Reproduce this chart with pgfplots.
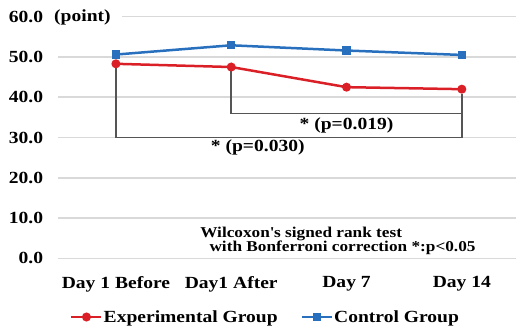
\documentclass[border=0pt]{standalone}
\usepackage{fontspec}
\setmainfont{Liberation Serif}[FakeStretch=1.15]
\usepackage{pgfplots}
\pgfplotsset{compat=1.18}
\definecolor{expred}{RGB}{218,32,38}
\definecolor{ctrlblue}{RGB}{40,112,190}
\definecolor{gridgray}{RGB}{217,217,217}
\definecolor{brk}{RGB}{85,85,85}
\newcommand{\bigf}{\bfseries\fontsize{17}{17}\selectfont}
\newcommand{\smf}{\bfseries\fontsize{15}{15}\selectfont}
\begin{document}
\begin{tikzpicture}[x=1pt,y=1pt]
\begin{axis}[
  at={(58.3pt,72.7pt)}, anchor=south west,
  scale only axis, width=457.7pt, height=241.6pt,
  xmin=-0.5, xmax=3.47, ymin=0, ymax=60,
  axis line style={draw=none},
  major tick length=0pt,
  xtick={0,1,2,3},
  xticklabels={Day 1 Before, Day1 After, Day 7, Day 14},
  ytick={0,10,...,60},
  yticklabels={0.0,10.0,20.0,30.0,40.0,50.0,60.0},
  ymajorgrids, grid style={gridgray, line width=1.5pt},
  ticklabel style={font=\bigf, inner sep=0pt},
  yticklabel style={anchor=east, xshift=-15pt},
  xticklabel style={anchor=north, yshift=-18pt},
  legend style={at={(0.0256,-0.243)}, anchor=west, draw=none, fill=none,
    inner sep=0pt, font=\bigf, nodes={inner sep=1pt},
    /tikz/every even column/.append style={column sep=22pt}},
  legend columns=2, legend cell align=left,
  legend image code/.code={\draw[mark repeat=2,mark phase=2] plot coordinates {(0pt,0pt) (15pt,0pt) (30pt,0pt)};},
  clip=false,
]
\draw[brk, line width=1.5pt] (axis cs:0,47.3) -- (axis cs:0,30) -- (axis cs:3,30) -- (axis cs:3,40.8);
\draw[brk, line width=1.5pt] (axis cs:1,46.5) -- (axis cs:1,36) -- (axis cs:3,36);
\addplot[expred, line width=2.5pt, mark=*, mark size=3.2pt] coordinates {(0,48.3) (1,47.5) (2,42.5) (3,42.0)};
\addlegendentry{Experimental Group}
\addplot[ctrlblue, line width=2.5pt, mark=square*, mark size=2.8pt] coordinates {(0,50.6) (1,52.9) (2,51.6) (3,50.5)};
\addlegendentry{Control Group}
\node[font=\bigf] at (axis cs:2,33) {* (p=0.019)};
\node[font=\bigf] at (axis cs:1.23,27.6) {* (p=0.030)};
\node[font=\smf, anchor=west, inner sep=0pt] at (axis cs:0.73,6.0) {Wilcoxon\textquotesingle s signed rank test};
\node[font=\smf, anchor=west, inner sep=0pt] at (axis cs:0.81,2.6) {with Bonferroni correction *:p<0.05};
\end{axis}
\fill[white] (50,305) rectangle (122,324);
\node[font=\bigf, anchor=west, inner sep=0pt] at (54,314) {(point)};
\pgfresetboundingbox
\path (0,0) rectangle (516,331);
\end{tikzpicture}
\end{document}
